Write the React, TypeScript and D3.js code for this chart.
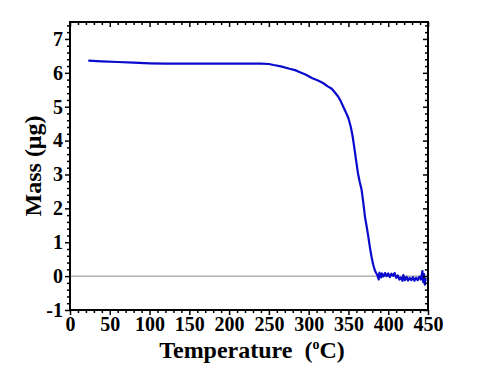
import React, { useEffect, useRef } from "react";
import * as d3 from "d3";

// Temperature (°C) and mass (µg)
const temperature = [
  23, 40, 60, 80, 100, 120, 150, 180, 200, 220, 240, 250, 256, 265, 276, 283,
  289, 296, 304, 311, 318, 324, 329, 333, 337, 340, 343.5, 347, 350, 353, 355.3,
  357, 359, 362, 364, 366.6, 368.5, 370.8, 373, 375, 377, 379, 381, 383, 385,
  386, 388, 389, 391, 392, 394, 396, 398, 400, 402, 404, 406, 408, 410, 412,
  414, 416, 418, 419, 421, 423, 425, 427, 429, 431, 433, 435, 437, 439, 441,
  443, 444, 445, 446, 447,
];
const mass = [
  6.36, 6.34, 6.32, 6.3, 6.28, 6.27, 6.27, 6.27, 6.27, 6.27, 6.27, 6.26, 6.23,
  6.19, 6.12, 6.08, 6.02, 5.95, 5.85, 5.78, 5.7, 5.6, 5.53, 5.42, 5.3, 5.18,
  5.0, 4.82, 4.66, 4.4, 4.12, 3.85, 3.52, 3.03, 2.8, 2.54, 2.2, 1.75, 1.45,
  1.16, 0.85, 0.57, 0.35, 0.18, 0.08, 0.05, -0.1, 0.1, -0.04, 0.08, -0.01, 0.09,
  0.0, 0.08, -0.03, 0.07, 0.01, 0.09, -0.05, 0.02, -0.1, -0.04, -0.14, 0.03,
  -0.12, -0.02, -0.13, -0.05, -0.12, -0.03, -0.14, -0.05, -0.12, -0.02, -0.1,
  0.15, -0.18, 0.06, -0.25, -0.05,
];

const xTicks = [0, 50, 100, 150, 200, 250, 300, 350, 400, 450];
const yTicks = [-1, 0, 1, 2, 3, 4, 5, 6, 7];

const width = 480;
const height = 374;

const App: React.FC = () => {
  const svgRef = useRef<SVGSVGElement>(null);

  useEffect(() => {
    if (!svgRef.current) return;

    const marginTop = 22;
    const marginRight = 52;
    const marginBottom = 64;
    const marginLeft = 70;

    const svg = d3.select(svgRef.current);
    svg.selectAll("*").remove();

    const x = d3
      .scaleLinear()
      .domain([0, 450])
      .range([marginLeft, width - marginRight]);
    const y = d3
      .scaleLinear()
      .domain([-1, 7.5])
      .range([height - marginBottom, marginTop]);

    const xMinor = d3.range(0, 451, 10).filter((v) => v % 50 !== 0);
    const yMinor = d3
      .range(-1, 7.51, 0.2)
      .map((v) => Math.round(v * 10) / 10)
      .filter((v) => Math.abs(v - Math.round(v)) > 0.01);

    const font = "'Liberation Serif', 'Times New Roman', serif";

    // zero reference line
    svg
      .append("line")
      .attr("x1", x(0))
      .attr("x2", x(450))
      .attr("y1", y(0))
      .attr("y2", y(0))
      .attr("stroke", "#8a8a8a")
      .attr("stroke-width", 1);

    // data
    const pts = temperature.map((t, i) => [t, mass[i]] as [number, number]);
    const line = d3
      .line<[number, number]>()
      .x((d) => x(d[0]))
      .y((d) => y(d[1]));
    svg
      .append("path")
      .datum(pts)
      .attr("fill", "none")
      .attr("stroke", "#0a0acc")
      .attr("stroke-width", 2.2)
      .attr("stroke-linejoin", "round")
      .attr("d", line);

    const styleAxis = (g: any) => {
      g.select(".domain").remove();
      g.selectAll(".tick line").attr("stroke", "#000").attr("stroke-width", 1.5);
    };
    const styleLabels = (g: any) =>
      g
        .selectAll("text")
        .style("font-family", font)
        .style("font-weight", "bold")
        .style("font-size", "20px")
        .attr("fill", "#000");

    // bottom axis with labels
    svg
      .append("g")
      .attr("transform", `translate(0,${y(-1)})`)
      .call(d3.axisBottom(x).tickValues(xTicks).tickSize(5).tickPadding(2).tickFormat((d) => String(d)))
      .call(styleAxis)
      .call(styleLabels);
    svg
      .append("g")
      .attr("transform", `translate(0,${y(-1)})`)
      .call(d3.axisBottom(x).tickValues(xMinor).tickSize(3).tickFormat(() => ""))
      .call(styleAxis);

    // top axis (inward)
    svg
      .append("g")
      .attr("transform", `translate(0,${y(7.5)})`)
      .call(d3.axisTop(x).tickValues(xTicks).tickSize(-5).tickFormat(() => ""))
      .call(styleAxis);
    svg
      .append("g")
      .attr("transform", `translate(0,${y(7.5)})`)
      .call(d3.axisTop(x).tickValues(xMinor).tickSize(-3).tickFormat(() => ""))
      .call(styleAxis);

    // left axis with labels
    svg
      .append("g")
      .attr("transform", `translate(${x(0)},0)`)
      .call(d3.axisLeft(y).tickValues(yTicks).tickSize(5).tickPadding(2).tickFormat((d) => String(d)))
      .call(styleAxis)
      .call(styleLabels);
    svg
      .append("g")
      .attr("transform", `translate(${x(0)},0)`)
      .call(d3.axisLeft(y).tickValues(yMinor).tickSize(3).tickFormat(() => ""))
      .call(styleAxis);

    // right axis (inward)
    svg
      .append("g")
      .attr("transform", `translate(${x(450)},0)`)
      .call(d3.axisRight(y).tickValues(yTicks).tickSize(-5).tickFormat(() => ""))
      .call(styleAxis);
    svg
      .append("g")
      .attr("transform", `translate(${x(450)},0)`)
      .call(d3.axisRight(y).tickValues(yMinor).tickSize(-3).tickFormat(() => ""))
      .call(styleAxis);

    // frame
    svg
      .append("rect")
      .attr("x", x(0))
      .attr("y", y(7.5))
      .attr("width", x(450) - x(0))
      .attr("height", y(-1) - y(7.5))
      .attr("fill", "none")
      .attr("stroke", "#000")
      .attr("stroke-width", 2);

    // axis titles
    const xt = svg
      .append("text")
      .attr("x", (x(0) + x(450)) / 2 + 3)
      .attr("y", 358)
      .attr("text-anchor", "middle")
      .style("font-family", font)
      .style("font-weight", "bold")
      .style("font-size", "24px")
      .attr("fill", "#000");
    xt.append("tspan").text("Temperature\u00a0\u00a0(");
    xt.append("tspan").style("font-size", "14px").attr("dy", -9).text("o");
    xt.append("tspan").attr("dy", 9).text("C)");

    svg
      .append("text")
      .attr("transform", `translate(41,${(y(-1) + y(7.5)) / 2}) rotate(-90)`)
      .attr("text-anchor", "middle")
      .style("font-family", font)
      .style("font-weight", "bold")
      .style("font-size", "24px")
      .attr("fill", "#000")
      .text("Mass (\u03bcg)");
  }, []);

  return (
    <svg
      ref={svgRef}
      width={width}
      height={height}
      style={{ position: "absolute", left: 0, top: 0, background: "#fff" }}
    />
  );
};

export default App;
